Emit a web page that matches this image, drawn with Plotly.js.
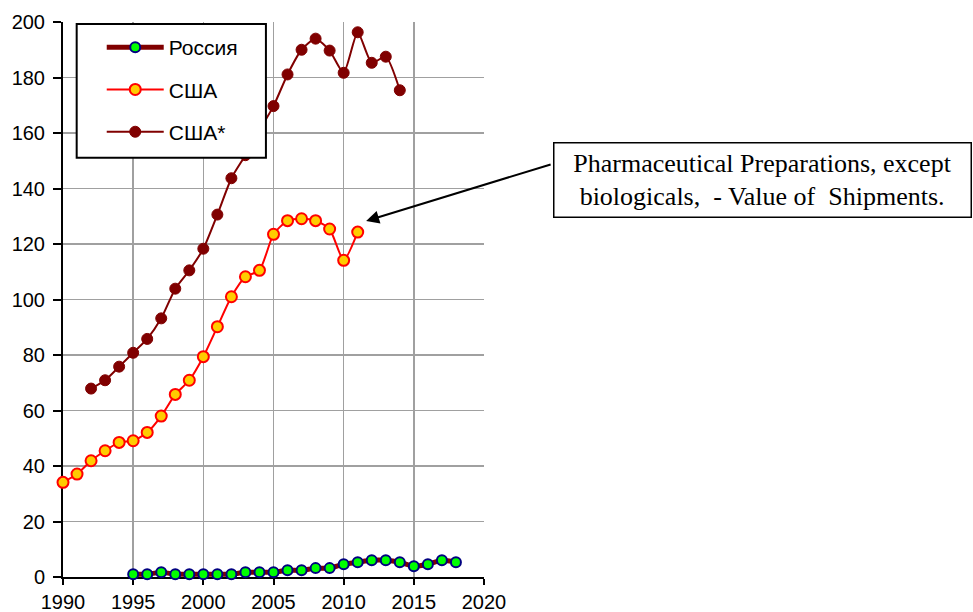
<!DOCTYPE html>
<html>
<head>
<meta charset="utf-8">
<script src="https://cdn.plot.ly/plotly-3.0.1.min.js"></script>
<style>html,body{margin:0;padding:0;background:#fff;}</style>
</head>
<body>
<div id="chart" style="width:973px;height:612px;"></div>
<script>
// Data
var russiaYears = [1995,1996,1997,1998,1999,2000,2001,2002,2003,2004,2005,2006,2007,2008,2009,2010,2011,2012,2013,2014,2015,2016,2017,2018];
var russiaValues = [1.0,1.0,1.7,1.0,1.0,1.0,1.0,1.0,1.7,1.7,1.7,2.4,2.4,3.2,3.2,4.6,5.3,6.0,6.0,5.3,3.9,4.6,6.0,5.3];

var usaYears = [1990,1991,1992,1993,1994,1995,1996,1997,1998,1999,2000,2001,2002,2003,2004,2005,2006,2007,2008,2009,2010,2011];
var usaValues = [34.1,37.1,41.9,45.5,48.5,49.1,52.1,58.0,65.8,70.9,79.4,90.2,101.0,108.2,110.5,123.5,128.4,129.1,128.4,125.4,114.1,124.3];

var usaStarYears = [1992,1993,1994,1995,1996,1997,1998,1999,2000,2001,2002,2003,2004,2005,2006,2007,2008,2009,2010,2011,2012,2013,2014];
var usaStarValues = [67.9,70.9,75.8,80.8,85.8,93.2,103.9,110.5,118.3,130.6,143.7,152.0,161.0,169.7,181.1,190.0,194.0,189.7,181.7,196.3,185.3,187.5,175.4];

var seriesNames = ['Россия', 'США', 'США*'];
var annotationText = 'Pharmaceutical Preparations, except<br>biologicals,  - Value of  Shipments.';
var arrowTarget = {year: 2011.6, value: 128.3};

var traces = [
  {
    x: russiaYears, y: russiaValues, name: seriesNames[0], type: 'scatter', mode: 'lines+markers',
    legendgroup: 'g1', cliponaxis: false,
    line: {color: '#800000', width: 5, shape: 'spline', smoothing: 0.6},
    marker: {size: 10, color: '#00ff00', line: {color: '#000080', width: 2}}
  },
  {
    x: usaYears, y: usaValues, name: seriesNames[1], type: 'scatter', mode: 'lines+markers',
    legendgroup: 'g2', cliponaxis: false,
    line: {color: '#ff0000', width: 2, shape: 'spline', smoothing: 0.6},
    marker: {size: 11, color: '#ffcc00', line: {color: '#ff0000', width: 2}}
  },
  {
    x: usaStarYears, y: usaStarValues, name: seriesNames[2], type: 'scatter', mode: 'lines+markers',
    legendgroup: 'g3', cliponaxis: false,
    line: {color: '#800000', width: 2, shape: 'spline', smoothing: 0.6},
    marker: {size: 11, color: '#800000', line: {color: '#800000', width: 1}}
  }
];

var axisFont = {family: 'Liberation Sans, Arial, sans-serif', size: 20, color: '#000'};

var layout = {
  width: 973, height: 612, autosize: false,
  margin: {l: 63, r: 489, t: 22, b: 35, pad: 0},
  paper_bgcolor: '#fff', plot_bgcolor: '#fff',
  font: axisFont,
  showlegend: true,
  xaxis: {
    range: [1990, 2020], dtick: 5, tick0: 1990,
    showline: true, linecolor: '#000', linewidth: 2,
    showgrid: true, gridcolor: '#a0a0a0', gridwidth: 1.5,
    ticks: 'outside', ticklen: 6, tickwidth: 2, tickcolor: '#000',
    zeroline: false, tickfont: axisFont, layer: 'below traces'
  },
  yaxis: {
    range: [0, 200], dtick: 20, tick0: 0,
    showline: true, linecolor: '#000', linewidth: 2,
    showgrid: true, gridcolor: '#a0a0a0', gridwidth: 1.5,
    ticks: 'outside', ticklen: 8, tickwidth: 2, tickcolor: '#000',
    ticklabelstandoff: 4,
    zeroline: false, tickfont: axisFont, layer: 'below traces'
  },
  legend: {
    x: 0.092, y: 0.991, xanchor: 'left', yanchor: 'top',
    bgcolor: 'rgba(0,0,0,0)', borderwidth: 0,
    font: {family: 'Liberation Sans, Arial, sans-serif', size: 21, color: '#000'},
    tracegroupgap: 12, itemwidth: 57, traceorder: 'grouped'
  },
  shapes: [
    {type: 'rect', xref: 'paper', yref: 'paper', x0: 0.0325, x1: 0.482, y0: 0.7555, y1: 0.9964,
     fillcolor: '#fff', line: {color: '#000', width: 2}, layer: 'above'}
  ],
  annotations: [
    {xref: 'x', yref: 'y', x: arrowTarget.year, y: arrowTarget.value, text: '',
     showarrow: true, arrowhead: 2, arrowsize: 1.3, arrowwidth: 2, arrowcolor: '#000',
     axref: 'pixel', ayref: 'pixel', ax: 186, ay: -57},
    {xref: 'paper', yref: 'paper', x: 1.661, y: 0.7153, xanchor: 'center', yanchor: 'middle',
     text: annotationText, showarrow: false, width: 416, height: 73,
     bgcolor: '#fff', bordercolor: '#000', borderwidth: 1.5, borderpad: 0,
     font: {family: 'Liberation Serif, Times New Roman, serif', size: 26, color: '#000'}}
  ]
};

Plotly.newPlot('chart', traces, layout, {displayModeBar: false, staticPlot: true});
</script>
</body>
</html>
